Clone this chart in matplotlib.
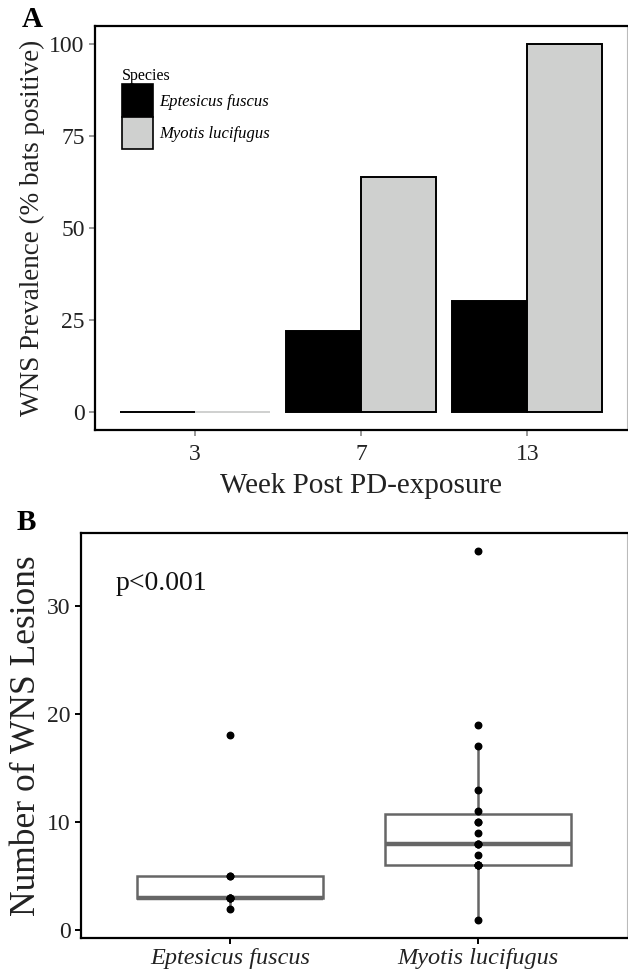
"""
WNS prevalence (A) and lesion counts (B) for two bat species
"""
import matplotlib
matplotlib.use('Agg')
import matplotlib.pyplot as plt
import matplotlib.patches as mpatches
import numpy as np

plt.rcParams['font.family'] = ['Liberation Serif', 'DejaVu Serif']

BLACK = '#000000'
LGRAY = '#CFD0CF'
BOXC = '#666666'

# ── data ──
weeks = ['3', '7', '13']
species = ['Eptesicus fuscus', 'Myotis lucifugus']
prev_ef = [0, 22, 30]
prev_ml = [0, 64, 100]

lesions_ef = [2, 3, 3, 3, 3, 5, 5, 18]
lesions_ml = [1, 6, 6, 6, 6, 6, 7, 8, 8, 8, 9, 10, 10, 11, 13, 17, 19, 35]

fig = plt.figure(figsize=(6.28, 9.71), dpi=100, facecolor='white')
axA = fig.add_axes([0.1513, 0.5572, 0.8471, 0.4160])
axB = fig.add_axes([0.1290, 0.0340, 0.8694, 0.4171])


def frame(ax, tickcol):
    for s in ['left', 'bottom', 'top']:
        ax.spines[s].set_color(BLACK)
        ax.spines[s].set_linewidth(1.6)
    ax.spines['right'].set_color('#BBBBBB')
    ax.spines['right'].set_linewidth(0.8)
    ax.tick_params(axis='both', colors=tickcol, length=4, width=1.4,
                   labelsize=17, labelcolor='#222222')
    ax.tick_params(axis='x', pad=6)


# ── panel A: dodged bars ──
x = np.arange(len(weeks))
w = 0.45
for vals, col, off in [(prev_ef, BLACK, -w / 2), (prev_ml, LGRAY, w / 2)]:
    edges = [BLACK if v > 0 else col for v in vals]
    axA.bar(x + off, vals, width=w, color=col, edgecolor=edges, linewidth=1.4)

axA.set_xlim(-0.6, len(weeks) - 0.4)
axA.set_ylim(-5, 105)
axA.set_xticks(x)
axA.set_xticklabels(weeks)
axA.set_yticks([0, 25, 50, 75, 100])
frame(axA, '#999999')
axA.set_xlabel('Week Post PD-exposure', fontsize=21, color='#222222', labelpad=6)
axA.set_ylabel('WNS Prevalence (% bats positive)', fontsize=19.5, color='#222222', labelpad=3)

handles = [mpatches.Patch(facecolor=BLACK, edgecolor=BLACK, linewidth=1.2, label=species[0]),
           mpatches.Patch(facecolor=LGRAY, edgecolor=BLACK, linewidth=1.2, label=species[1])]
leg = axA.legend(handles=handles, title='Species', loc='upper left',
                 bbox_to_anchor=(0.05, 0.895), frameon=False,
                 prop={'style': 'italic', 'size': 12}, title_fontsize=11.5,
                 handlelength=1.9, handleheight=2.6, labelspacing=0.0,
                 handletextpad=0.35, borderaxespad=0, borderpad=0)
leg._legend_box.align = 'left'

# ── panel B: boxplot + points ──
data = [lesions_ef, lesions_ml]
pos = np.arange(len(species))
axB.boxplot(data, positions=pos, widths=0.75, showfliers=False, whis=1.5,
            patch_artist=True,
            boxprops=dict(facecolor='white', edgecolor=BOXC, linewidth=1.8),
            medianprops=dict(color=BOXC, linewidth=3.2),
            whiskerprops=dict(color=BOXC, linewidth=1.8),
            capprops=dict(linewidth=0))
for i, d in enumerate(data):
    axB.scatter(np.full(len(d), pos[i]), d, s=22, color=BLACK, zorder=3)

allv = lesions_ef + lesions_ml
pad = 0.05 * (max(allv) - min(allv))
axB.set_ylim(min(allv) - pad, max(allv) + pad)
axB.set_xlim(-0.6, len(species) - 0.4)
axB.set_xticks(pos)
axB.set_xticklabels(species, fontstyle='italic')
axB.set_yticks([0, 10, 20, 30])
frame(axB, BLACK)
axB.tick_params(axis='x', labelsize=17.5, pad=3)
axB.set_ylabel('Number of WNS Lesions', fontsize=25.5, color='#222222', labelpad=3)
axB.text(-0.46, 32, 'p<0.001', fontsize=20, color='#111111', va='center', ha='left')

fig.text(0.034, 0.994, 'A', fontsize=21, fontweight='bold', va='top', ha='left')
fig.text(0.026, 0.476, 'B', fontsize=21, fontweight='bold', va='top', ha='left')

fig.savefig('out.png', dpi=100, facecolor='white')
plt.close(fig)
